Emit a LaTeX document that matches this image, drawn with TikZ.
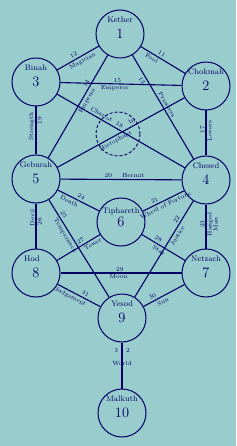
\documentclass[tikz,border=0pt]{standalone}
\usepackage{tikz}
\definecolor{treebg}{HTML}{99CCCC}
\definecolor{ink}{HTML}{000066}

\begin{document}
\begin{tikzpicture}[
    x=1pt, y=-1pt,
    sephira/.style={draw=ink, circle, line width=1pt, minimum size=48pt, inner sep=0pt, text=ink, font=\Large},
    daath/.style={draw=ink, circle, dash pattern=on 3pt off 2pt, line width=0.9pt, minimum size=44pt},
    nm/.style={text=ink, font=\footnotesize, yshift=14pt},
    link/.style={draw=ink, line width=1.1pt},
    tag/.style={text=ink, font=\fontsize{6}{6}\selectfont, inner sep=1pt},
    lab/.style={tag, sloped, allow upside down},
]
\fill[treebg] (0,0) rectangle (236,446);
\useasboundingbox (0,0) rectangle (236,446);

% Sephiroth
\node[sephira, label={[nm]center:Kether}] (kether) at (120,34) {1};
\node[sephira, label={[nm]center:Chokmah}] (chokmah) at (206,86) {2};
\node[sephira, label={[nm]center:Binah}] (binah) at (36,82) {3};
\node[daath] (daath) at (118,134) {};
\node[sephira, label={[nm]center:Chesed}] (chesed) at (206,180) {4};
\node[sephira, label={[nm]center:Geburah}] (geburah) at (36,179) {5};
\node[sephira, label={[nm, yshift=-3pt]center:Tiphareth}] (tiphareth) at (121,222) {6};
\node[sephira, label={[nm]center:Netzach}] (netzach) at (206,273) {7};
\node[sephira, label={[nm, xshift=-4pt]center:Hod}] (hod) at (36,273) {8};
\node[sephira, label={[nm]center:Yesod}] (yesod) at (122,318) {9};
\node[sephira, label={[nm]center:Malkuth}] (malkuth) at (122,413) {10};

% Paths of the supernal triad
\draw[link] (kether) -- (chokmah) node[lab, pos=.42, above=1pt] {11} node[lab, pos=.3, below=1pt] {Fool};
\draw[link] (binah) -- (kether) node[lab, pos=.45, above=1pt] {12} node[lab, pos=.55, below=1pt] {Magician};
\draw[link] (binah) -- (chokmah) node[lab, pos=.47, above] {15} node[lab, pos=.45, below] {Emperor};
\draw[link] (geburah) -- (kether) node[lab, pos=.7, above=1pt] {14} node[lab, pos=.58, below=1pt] {Empress};
\draw[link] (kether) -- (chesed) node[lab, pos=.22, below=1pt] {13} node[lab, pos=.5, above=1pt] {Priestess};

% Paths across Daath
\draw[link] (binah) -- (chesed) node[lab, pos=.47, above=1pt] {18} node[lab, pos=.33, above=1pt] {Chariot};
\draw[link] (geburah) -- (chokmah) node[lab, pos=.6, above=1pt] {16} node[lab, pos=.44, below=1pt] {Hierophant};

% Pillars
\draw[link] (geburah) -- (binah) node[lab, pos=.58, above] {Strength} node[lab, pos=.7, below] {19};
\draw[link] (chesed) -- (chokmah) node[lab, pos=.57, above] {17} node[lab, pos=.55, below] {Lovers};
\draw[link] (hod) -- (geburah) node[lab, pos=.68, above] {Devil} node[lab, pos=.6, below] {26};
\draw[link] (netzach) -- (chesed) node[lab, pos=.55, above] {23} node[lab, pos=.55, below, align=center] {Hanged\\Man};

% Middle paths
\draw[link] (geburah) -- (chesed) node[tag, pos=.53, above] {20\hspace{10pt}Hermit};
\draw[link] (geburah) -- (tiphareth) node[lab, pos=.52, above=1pt] {24} node[lab, pos=.33, below=1pt] {Death};
\draw[link] (tiphareth) -- (chesed) node[lab, pos=.33, above=1pt] {21} node[lab, pos=.5, below=1pt] {Wheel of Fortune};
\draw[link] (geburah) -- (yesod) node[lab, pos=.18, above=1pt] {25} node[lab, pos=.34, below=1pt] {Temperance};
\draw[link] (yesod) -- (chesed) node[lab, pos=.78, above=1pt] {22} node[lab, pos=.66, below=1pt] {Justice};

% Lower paths
\draw[link] (hod) -- (tiphareth) node[lab, pos=.6, above=1pt] {27} node[lab, pos=.78, below=1pt] {Tower};
\draw[link] (tiphareth) -- (netzach) node[lab, pos=.33, above=1pt] {28} node[lab, pos=.45, below=1pt] {Star};
\draw[link] (hod) -- (netzach) node[tag, pos=.49, above] {29} node[tag, pos=.48, below] {Moon};
\draw[link] (hod) -- (yesod) node[lab, pos=.6, above=1pt] {31} node[lab, pos=.35, below=1pt] {Judgement};
\draw[link] (yesod) -- (netzach) node[lab, pos=.27, above=1pt] {30} node[lab, pos=.42, below=1pt] {Sun};
\draw[link] (yesod) -- (malkuth) node[tag, pos=.17] {3\hspace{8pt}2} node[tag, pos=.45] {World};

\end{tikzpicture}
\end{document}
